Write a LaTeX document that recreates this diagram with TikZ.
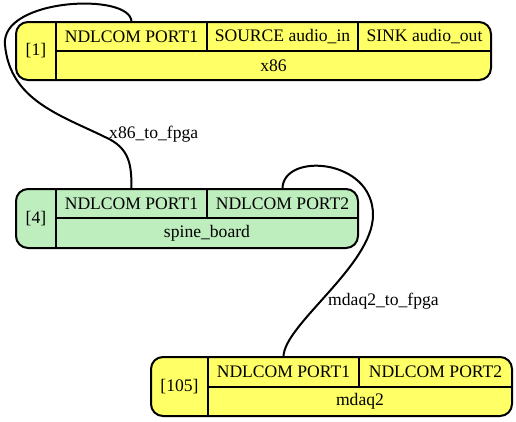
\documentclass[tikz,border=0pt]{standalone}
\usepackage{fontspec}
\setmainfont{Liberation Serif}
\definecolor{yel}{RGB}{255,255,102}
\definecolor{grn}{RGB}{190,237,190}
\begin{document}
\begin{tikzpicture}[x=1pt,y=-1pt,
  every node/.style={font=\fontsize{17.6}{20}\selectfont, inner sep=0pt},
  outerbox/.style={draw, line width=2pt, rounded corners=12pt, rectangle},
  cell/.style={rectangle, minimum height=29pt},
  divider/.style={line width=2pt},
  edge/.style={line width=2pt}]
\useasboundingbox (0,0) rectangle (516,421);
% x86
\draw[outerbox, fill=yel] (16,22) rectangle (491,80);
\draw[divider] (56,22) -- (56,80);
\draw[divider] (56,51) -- (491,51);
\draw[divider] (207,22) -- (207,51);
\draw[divider] (358,22) -- (358,51);
\node (x86id) at (36,51) {[1]};
\node[cell, minimum width=151pt] (x86p1) at (131.5,36.5) {NDLCOM PORT1};
\node[cell, minimum width=151pt] (x86src) at (282.5,36.5) {SOURCE audio\_in};
\node[cell, minimum width=133pt] (x86sink) at (424.5,36.5) {SINK audio\_out};
\node (x86name) at (273.5,65.5) {x86};
% spine_board
\draw[outerbox, fill=grn] (16,189) rectangle (358,248);
\draw[divider] (56,189) -- (56,248);
\draw[divider] (56,218) -- (358,218);
\draw[divider] (207,189) -- (207,218);
\node (spid) at (36,218.5) {[4]};
\node[cell, minimum width=151pt] (spp1) at (131.5,203.5) {NDLCOM PORT1};
\node[cell, minimum width=151pt] (spp2) at (282.5,203.5) {NDLCOM PORT2};
\node (spname) at (207,233) {spine\_board};
% mdaq2
\draw[outerbox, fill=yel] (151,357) rectangle (512,416);
\draw[divider] (208,357) -- (208,416);
\draw[divider] (208,387) -- (512,387);
\draw[divider] (359,357) -- (359,387);
\node (mdid) at (179.5,386.5) {[105]};
\node[cell, minimum width=151pt, minimum height=30pt] (mdp1) at (283.5,372) {NDLCOM PORT1};
\node[cell, minimum width=153pt, minimum height=30pt] (mdp2) at (435.5,372) {NDLCOM PORT2};
\node (mdname) at (360,401.5) {mdaq2};
% edges
\draw[edge] (x86p1.north) .. controls (131,-8) and (0,-2) .. (5,45)
  .. controls (10,100) and (60,115) .. (105,137)
  .. controls (130,148) and (131.5,165) .. (spp1.north);
\node[anchor=west] (lab1) at (109,134) {x86\_to\_fpga};
\draw[edge] (spp2.north) .. controls (282.5,152) and (373,158) .. (373,215)
  .. controls (373,265) and (283.5,325) .. (mdp1.north);
\node[anchor=west] (lab2) at (328,301) {mdaq2\_to\_fpga};
\end{tikzpicture}
\end{document}
